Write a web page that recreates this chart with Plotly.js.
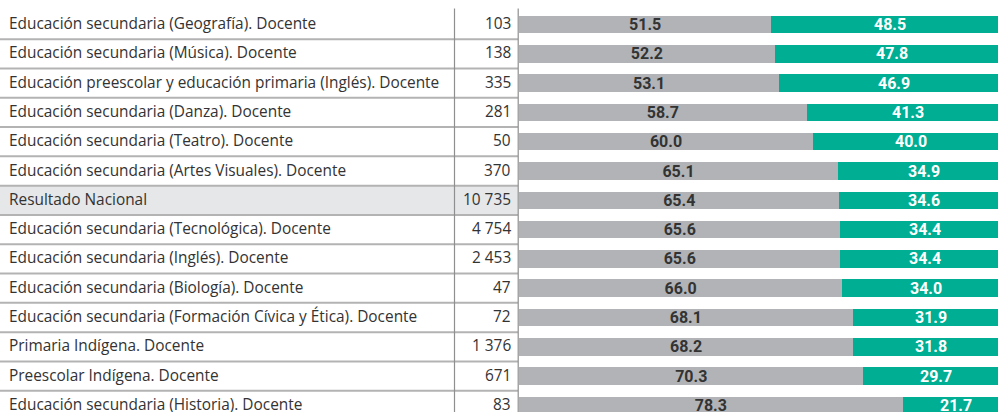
<!DOCTYPE html>
<html>
<head>
<meta charset="utf-8">
<script src="https://cdn.plot.ly/plotly-3.0.1.min.js"></script>
<style>html,body{margin:0;padding:0;background:#fff}#chart{width:998px;height:412px}</style>
</head>
<body>
<div id="chart"></div>
<script>
const categories = [
  "Educación secundaria (Geografía). Docente",
  "Educación secundaria (Música). Docente",
  "Educación preescolar y educación primaria (Inglés). Docente",
  "Educación secundaria (Danza). Docente",
  "Educación secundaria (Teatro). Docente",
  "Educación secundaria (Artes Visuales). Docente",
  "Resultado Nacional",
  "Educación secundaria (Tecnológica). Docente",
  "Educación secundaria (Inglés). Docente",
  "Educación secundaria (Biología). Docente",
  "Educación secundaria (Formación Cívica y Ética). Docente",
  "Primaria Indígena. Docente",
  "Preescolar Indígena. Docente",
  "Educación secundaria (Historia). Docente"
];
const counts = [103, 138, 335, 281, 50, 370, 10735, 4754, 2453, 47, 72, 1376, 671, 83];
const greyValues = [51.5, 52.2, 53.1, 58.7, 60.0, 65.1, 65.4, 65.6, 65.6, 66.0, 68.1, 68.2, 70.3, 78.3];
const greenValues = [48.5, 47.8, 46.9, 41.3, 40.0, 34.9, 34.6, 34.4, 34.4, 34.0, 31.9, 31.8, 29.7, 21.7];
const highlightLabel = "Resultado Nacional";

// ---- layout constants (pixels) ----
const W = 998, H = 412, L = 519;
const PW = W - L;
const px = p => (p - L) / PW;           // pixel -> paper x
const PX_PER_UNIT = 4.9;
const XMAX = PW / PX_PER_UNIT;

const rows = categories.map((_, i) => i);
const fmt = n => String(n).replace(/\B(?=(\d{3})+(?!\d))/g, " ");
const hi = categories.indexOf(highlightLabel);

const GREY = "#b1b3b6", GREEN = "#00ae93", TXT = "#333333";
const HLINE = "#b3b3b3", VLINE = "#8f8f8f";
const barFont = {family: "Roboto, 'Liberation Sans', sans-serif", size: 16, weight: 700};
const tableFont = {family: "'Open Sans', sans-serif", size: 15.4, color: TXT};

const traces = [
  {
    type: "bar", orientation: "h", y: rows, x: greyValues,
    marker: {color: GREY, line: {width: 0}}, width: 0.6,
    text: greyValues.map(v => v.toFixed(1)), textposition: "inside",
    insidetextanchor: "middle", textangle: 0, constraintext: "none",
    insidetextfont: Object.assign({color: TXT}, barFont),
    hoverinfo: "skip"
  },
  {
    type: "bar", orientation: "h", y: rows, x: greenValues,
    marker: {color: GREEN, line: {width: 0}}, width: 0.6,
    textposition: "none", hoverinfo: "skip"
  }
];

const annotations = [];
const shapes = [];
const ROW_TOP = -0.55, ROW_BOT = categories.length - 0.5;

if (hi >= 0) {
  shapes.push({type: "rect", xref: "paper", yref: "y", x0: px(0), x1: px(518),
    y0: hi - 0.5, y1: hi + 0.5, fillcolor: "#e6e7e8", line: {width: 0}, layer: "below"});
}
categories.forEach((c, i) => {
  annotations.push({xref: "paper", yref: "y", x: px(7), y: i, text: c, showarrow: false,
    xanchor: "left", yanchor: "middle", yshift: 1, font: tableFont});
  annotations.push({xref: "paper", yref: "y", x: px(513), y: i, text: fmt(counts[i]), showarrow: false,
    xanchor: "right", yanchor: "middle", yshift: 1, font: tableFont});
  annotations.push({xref: "x", yref: "y", x: greyValues[i] + greenValues[i] / 2, y: i,
    text: greenValues[i].toFixed(1), showarrow: false, xanchor: "center", yanchor: "middle",
    font: Object.assign({color: "#ffffff"}, barFont)});
  if (i < categories.length - 1) {
    shapes.push({type: "line", xref: "paper", yref: "y", x0: px(0), x1: px(518),
      y0: i + 0.5, y1: i + 0.5, line: {color: HLINE, width: 2}});
  }
});
[454.5, 518.2].forEach(p => {
  shapes.push({type: "line", xref: "paper", yref: "y", x0: px(p), x1: px(p),
    y0: ROW_TOP, y1: ROW_BOT + 1, line: {color: VLINE, width: 1.2}});
});

const rowPx = 29.3, firstCenter = 24.5;
const yTop = -firstCenter / rowPx;
const yBot = (H - firstCenter) / rowPx;

const layout = {
  width: W, height: H,
  margin: {l: L, r: 0, t: 0, b: 0, pad: 0},
  paper_bgcolor: "#ffffff", plot_bgcolor: "rgba(0,0,0,0)",
  barmode: "stack", showlegend: false,
  xaxis: {range: [0, XMAX], visible: false, fixedrange: true},
  yaxis: {range: [yBot, yTop], visible: false, fixedrange: true},
  annotations, shapes
};
Plotly.newPlot("chart", traces, layout, {displayModeBar: false, staticPlot: true});
</script>
</body>
</html>
